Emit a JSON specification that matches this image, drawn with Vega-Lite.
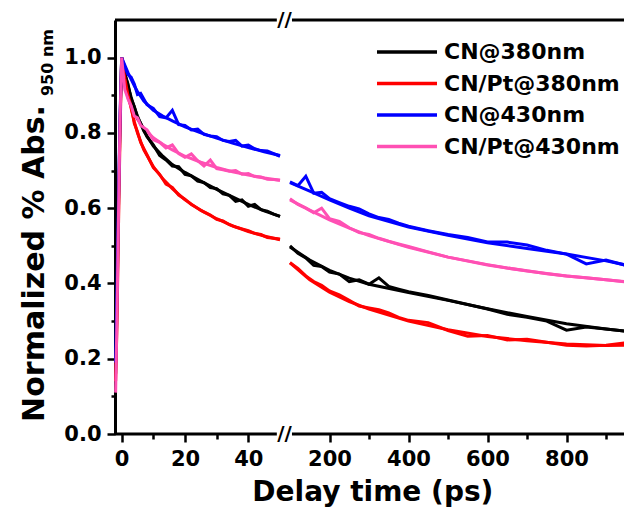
{
  "$schema": "https://vega.github.io/schema/vega-lite/v6.json",
  "autosize": {"type": "none"},
  "padding": {"left": 115, "top": 20, "right": 0, "bottom": 76},
  "width": 515,
  "height": 414,
  "background": "white",
  "config": {"view": {"stroke": null}},
  "datasets": {
    "curves": [
      {"k":"f","g":"L","t":0,"a":1,"b":1,"c":1,"d":1},
      {"k":"f","g":"L","t":0.5,"a":0.98,"b":0.975,"c":0.99,"d":0.96},
      {"k":"f","g":"L","t":1,"a":0.96,"b":0.95,"c":0.98,"d":0.93},
      {"k":"f","g":"L","t":2,"a":0.925,"b":0.905,"c":0.96,"d":0.893},
      {"k":"f","g":"L","t":3,"a":0.895,"b":0.865,"c":0.942,"d":0.868},
      {"k":"f","g":"L","t":4,"a":0.868,"b":0.83,"c":0.925,"d":0.85},
      {"k":"f","g":"L","t":5,"a":0.845,"b":0.8,"c":0.91,"d":0.836},
      {"k":"f","g":"L","t":7,"a":0.805,"b":0.755,"c":0.885,"d":0.812},
      {"k":"f","g":"L","t":10,"a":0.765,"b":0.71,"c":0.86,"d":0.787},
      {"k":"f","g":"L","t":13,"a":0.738,"b":0.678,"c":0.845,"d":0.77},
      {"k":"f","g":"L","t":16,"a":0.716,"b":0.652,"c":0.832,"d":0.755},
      {"k":"f","g":"L","t":20,"a":0.695,"b":0.622,"c":0.816,"d":0.738},
      {"k":"f","g":"L","t":25,"a":0.672,"b":0.594,"c":0.8,"d":0.722},
      {"k":"f","g":"L","t":30,"a":0.65,"b":0.572,"c":0.786,"d":0.708},
      {"k":"f","g":"L","t":35,"a":0.63,"b":0.553,"c":0.773,"d":0.697},
      {"k":"f","g":"L","t":40,"a":0.61,"b":0.538,"c":0.761,"d":0.688},
      {"k":"f","g":"L","t":45,"a":0.593,"b":0.526,"c":0.75,"d":0.68},
      {"k":"f","g":"L","t":50,"a":0.578,"b":0.516,"c":0.74,"d":0.674},
      {"k":"f","g":"R","t":100,"a":0.497,"b":0.455,"c":0.668,"d":0.622},
      {"k":"f","g":"R","t":150,"a":0.462,"b":0.41,"c":0.645,"d":0.595},
      {"k":"f","g":"R","t":200,"a":0.435,"b":0.377,"c":0.622,"d":0.569},
      {"k":"f","g":"R","t":250,"a":0.414,"b":0.352,"c":0.6,"d":0.547},
      {"k":"f","g":"R","t":300,"a":0.398,"b":0.332,"c":0.58,"d":0.527},
      {"k":"f","g":"R","t":400,"a":0.376,"b":0.3,"c":0.55,"d":0.496},
      {"k":"f","g":"R","t":500,"a":0.355,"b":0.277,"c":0.528,"d":0.47},
      {"k":"f","g":"R","t":600,"a":0.333,"b":0.259,"c":0.508,"d":0.449},
      {"k":"f","g":"R","t":700,"a":0.312,"b":0.248,"c":0.493,"d":0.433},
      {"k":"f","g":"R","t":800,"a":0.293,"b":0.239,"c":0.478,"d":0.42},
      {"k":"f","g":"R","t":900,"a":0.279,"b":0.235,"c":0.46,"d":0.41},
      {"k":"f","g":"R","t":950,"a":0.273,"b":0.236,"c":0.449,"d":0.405},
      {"k":"d","g":"L","t":-1.9,"a":0.16,"b":0.14,"c":0.19,"d":0.11},
      {"k":"d","g":"L","t":-1.5,"a":0.33,"b":0.28,"c":0.38,"d":0.3},
      {"k":"d","g":"L","t":-1.0,"a":0.6,"b":0.55,"c":0.62,"d":0.58},
      {"k":"d","g":"L","t":-0.5,"a":0.83,"b":0.8,"c":0.85,"d":0.84},
      {"k":"d","g":"L","t":0,"a":1,"b":1,"c":1,"d":1},
      {"k":"d","g":"L","t":1,"a":0.955,"b":0.945,"c":0.975,"d":0.915},
      {"k":"d","g":"L","t":2,"a":0.93,"b":0.9,"c":0.955,"d":0.89},
      {"k":"d","g":"L","t":3,"a":0.89,"b":0.87,"c":0.948,"d":0.872},
      {"k":"d","g":"L","t":4,"a":0.87,"b":0.825,"c":0.93,"d":0.845},
      {"k":"d","g":"L","t":5,"a":0.84,"b":0.803,"c":0.902,"d":0.84},
      {"k":"d","g":"L","t":6,"a":0.826,"b":0.775,"c":0.905,"d":0.82},
      {"k":"d","g":"L","t":8,"a":0.79,"b":0.742,"c":0.875,"d":0.808},
      {"k":"d","g":"L","t":10,"a":0.768,"b":0.708,"c":0.865,"d":0.782},
      {"k":"d","g":"L","t":12,"a":0.74,"b":0.69,"c":0.843,"d":0.775},
      {"k":"d","g":"L","t":14,"a":0.728,"b":0.664,"c":0.84,"d":0.76},
      {"k":"d","g":"L","t":16,"a":0.712,"b":0.655,"c":0.86,"d":0.768},
      {"k":"d","g":"L","t":18,"a":0.71,"b":0.635,"c":0.822,"d":0.745},
      {"k":"d","g":"L","t":20,"a":0.69,"b":0.624,"c":0.82,"d":0.735},
      {"k":"d","g":"L","t":22,"a":0.686,"b":0.61,"c":0.808,"d":0.744},
      {"k":"d","g":"L","t":24,"a":0.672,"b":0.6,"c":0.81,"d":0.726},
      {"k":"d","g":"L","t":26,"a":0.668,"b":0.59,"c":0.796,"d":0.712},
      {"k":"d","g":"L","t":28,"a":0.655,"b":0.582,"c":0.792,"d":0.728},
      {"k":"d","g":"L","t":30,"a":0.652,"b":0.57,"c":0.79,"d":0.705},
      {"k":"d","g":"L","t":32,"a":0.638,"b":0.566,"c":0.78,"d":0.702},
      {"k":"d","g":"L","t":34,"a":0.634,"b":0.556,"c":0.777,"d":0.698},
      {"k":"d","g":"L","t":36,"a":0.618,"b":0.55,"c":0.78,"d":0.7},
      {"k":"d","g":"L","t":38,"a":0.622,"b":0.545,"c":0.765,"d":0.69},
      {"k":"d","g":"L","t":40,"a":0.605,"b":0.54,"c":0.768,"d":0.692},
      {"k":"d","g":"L","t":42,"a":0.61,"b":0.533,"c":0.758,"d":0.684},
      {"k":"d","g":"L","t":44,"a":0.596,"b":0.53,"c":0.753,"d":0.683},
      {"k":"d","g":"L","t":46,"a":0.592,"b":0.522,"c":0.752,"d":0.677},
      {"k":"d","g":"L","t":48,"a":0.584,"b":0.52,"c":0.745,"d":0.676},
      {"k":"d","g":"L","t":50,"a":0.578,"b":0.518,"c":0.738,"d":0.674},
      {"k":"d","g":"R","t":100,"a":0.5,"b":0.455,"c":0.67,"d":0.625},
      {"k":"d","g":"R","t":120,"a":0.48,"b":0.44,"c":0.66,"d":0.61},
      {"k":"d","g":"R","t":140,"a":0.468,"b":0.42,"c":0.685,"d":0.6},
      {"k":"d","g":"R","t":160,"a":0.448,"b":0.405,"c":0.64,"d":0.588},
      {"k":"d","g":"R","t":180,"a":0.445,"b":0.395,"c":0.642,"d":0.6},
      {"k":"d","g":"R","t":200,"a":0.43,"b":0.38,"c":0.625,"d":0.572},
      {"k":"d","g":"R","t":225,"a":0.425,"b":0.37,"c":0.615,"d":0.565},
      {"k":"d","g":"R","t":250,"a":0.405,"b":0.355,"c":0.605,"d":0.548},
      {"k":"d","g":"R","t":275,"a":0.41,"b":0.34,"c":0.598,"d":0.535},
      {"k":"d","g":"R","t":300,"a":0.398,"b":0.335,"c":0.585,"d":0.53},
      {"k":"d","g":"R","t":325,"a":0.415,"b":0.33,"c":0.575,"d":0.52},
      {"k":"d","g":"R","t":350,"a":0.392,"b":0.322,"c":0.57,"d":0.512},
      {"k":"d","g":"R","t":375,"a":0.385,"b":0.31,"c":0.56,"d":0.505},
      {"k":"d","g":"R","t":400,"a":0.378,"b":0.302,"c":0.552,"d":0.498},
      {"k":"d","g":"R","t":450,"a":0.368,"b":0.296,"c":0.54,"d":0.484},
      {"k":"d","g":"R","t":500,"a":0.356,"b":0.275,"c":0.53,"d":0.47},
      {"k":"d","g":"R","t":550,"a":0.344,"b":0.26,"c":0.522,"d":0.46},
      {"k":"d","g":"R","t":600,"a":0.332,"b":0.262,"c":0.51,"d":0.45},
      {"k":"d","g":"R","t":650,"a":0.318,"b":0.25,"c":0.51,"d":0.441},
      {"k":"d","g":"R","t":700,"a":0.31,"b":0.252,"c":0.502,"d":0.434},
      {"k":"d","g":"R","t":750,"a":0.3,"b":0.244,"c":0.488,"d":0.426},
      {"k":"d","g":"R","t":800,"a":0.276,"b":0.236,"c":0.478,"d":0.42},
      {"k":"d","g":"R","t":850,"a":0.284,"b":0.234,"c":0.452,"d":0.415},
      {"k":"d","g":"R","t":900,"a":0.279,"b":0.236,"c":0.462,"d":0.41},
      {"k":"d","g":"R","t":950,"a":0.273,"b":0.242,"c":0.448,"d":0.404}
    ],
    "frame": [
      {"x1": -2.1, "x2": 49, "y": 0},
      {"x1": 105, "x2": 960, "y": 0},
      {"x1": -2.1, "x2": 49, "y": 1.1},
      {"x1": 105, "x2": 960, "y": 1.1}
    ],
    "brk": [
      {"t": 72.5, "v": 0},
      {"t": 72.5, "v": 1.1}
    ],
    "sub": [
      {"t": -21.7, "v": 0.987, "txt": "950 nm"}
    ]
  },
  "layer": [
    {
      "data": {"name": "curves"},
      "transform": [{"fold": ["a", "b", "c", "d"], "as": ["s", "v"]}],
      "mark": {"type": "line", "strokeWidth": 3, "clip": false},
      "encoding": {
        "x": {
          "field": "t", "type": "quantitative",
          "scale": {"domain": [-2.1, 50, 100, 960], "range": [0, 165, 175, 514.7], "nice": false, "zero": false},
          "axis": {
            "values": [0, 10, 20, 30, 40, 200, 300, 400, 500, 600, 700, 800, 900],
            "labelExpr": "indexof([10,30,300,500,700,900], datum.value) >= 0 ? '' : datum.label",
            "domain": false, "grid": false,
            "tickColor": "black", "tickWidth": 2.5,
            "tickSize": {"condition": {"test": "indexof([10,30,300,500,700,900], datum.value) >= 0", "value": 5}, "value": 8},
            "labelFont": "DejaVu Sans", "labelFontSize": 21, "labelFontWeight": "bold", "labelColor": "black",
            "labelPadding": 6, "labelFlush": false, "labelOverlap": false,
            "title": "Delay time (ps)", "titleFont": "DejaVu Sans", "titleFontSize": 28, "titleFontWeight": "bold",
            "titleColor": "black", "titleBaseline": "alphabetic", "titleY": 66
          }
        },
        "y": {
          "field": "v", "type": "quantitative",
          "scale": {"domain": [0, 1.1], "nice": false, "zero": false},
          "axis": {
            "values": [0, 0.1, 0.2, 0.3, 0.4, 0.5, 0.6, 0.7, 0.8, 0.9, 1.0],
            "labelExpr": "indexof([0.1,0.3,0.5,0.7,0.9], datum.value) >= 0 ? '' : format(datum.value, '.1f')",
            "domain": true, "domainColor": "black", "domainWidth": 3, "grid": false,
            "tickColor": "black", "tickWidth": 2.5,
            "tickSize": {"condition": {"test": "indexof([0.1,0.3,0.5,0.7,0.9], datum.value) >= 0", "value": 4}, "value": 8},
            "labelFont": "DejaVu Sans", "labelFontSize": 21, "labelFontWeight": "bold", "labelColor": "black",
            "labelPadding": 6, "labelFlush": false, "labelOverlap": false,
            "title": "Normalized % Abs.", "titleFont": "DejaVu Sans", "titleFontSize": 30, "titleFontWeight": "bold",
            "titleColor": "black", "titleBaseline": "alphabetic", "titleX": -72, "titleY": 243, "titleAngle": 270
          }
        },
        "color": {
          "field": "s", "type": "nominal",
          "scale": {"domain": ["a", "b", "c", "d"], "range": ["#000000", "#FF0000", "#0000FF", "#FF50B4"]},
          "legend": {
            "orient": "none", "legendX": 275, "legendY": 15, "title": null,
            "symbolType": "M-2,0L2,0", "symbolSize": 900, "symbolStrokeWidth": 3.5,
            "labelExpr": "{'a':'CN@380nm','b':'CN/Pt@380nm','c':'CN@430nm','d':'CN/Pt@430nm'}[datum.label]",
            "labelFont": "DejaVu Sans", "labelFontSize": 22, "labelFontWeight": "bold", "labelColor": "black",
            "labelOffset": 20, "rowPadding": 3.5, "labelLimit": 300
          }
        },
        "detail": [{"field": "k"}, {"field": "g"}]
      }
    },
    {
      "data": {"name": "frame"},
      "mark": {"type": "rule", "strokeWidth": 3, "color": "black", "clip": false},
      "encoding": {
        "x": {"field": "x1", "type": "quantitative"},
        "x2": {"field": "x2"},
        "y": {"field": "y", "type": "quantitative"}
      }
    },
    {
      "data": {"name": "brk"},
      "mark": {"type": "text", "text": "//", "font": "DejaVu Sans", "fontSize": 20, "fontWeight": "bold", "color": "black", "align": "center", "baseline": "middle", "clip": false},
      "encoding": {
        "x": {"field": "t", "type": "quantitative"},
        "y": {"field": "v", "type": "quantitative"}
      }
    },
    {
      "data": {"name": "sub"},
      "mark": {"type": "text", "font": "DejaVu Sans", "fontSize": 16, "fontWeight": "bold", "color": "black", "align": "center", "baseline": "alphabetic", "angle": 270, "clip": false},
      "encoding": {
        "x": {"field": "t", "type": "quantitative"},
        "y": {"field": "v", "type": "quantitative"},
        "text": {"field": "txt"}
      }
    }
  ]
}
